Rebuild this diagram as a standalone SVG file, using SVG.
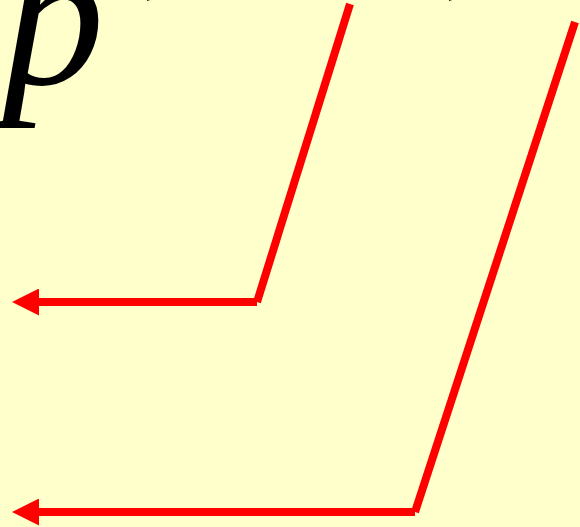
<svg xmlns="http://www.w3.org/2000/svg" width="580" height="527" viewBox="0 0 580 527">
<style>
.bg{fill:#FFFFCC}
.lbl{font-family:"Liberation Serif","Times New Roman",serif;font-style:italic;fill:#000}
.wire{stroke:#FF0000;stroke-width:8;fill:none;stroke-linecap:butt}
</style>
<defs>
<marker id="arr" markerUnits="userSpaceOnUse" markerWidth="27" markerHeight="27" refX="3" refY="13.5" orient="auto">
<path d="M0,0 L27,13.5 L0,27 z" fill="#FF0000"/>
</marker>
</defs>
<rect class="bg" x="0" y="0" width="580" height="527"/>
<g id="label-p">
<text class="lbl" x="2" y="84" font-size="205">p</text>
</g>
<g id="label-fragments">
<text class="lbl" x="143" y="-18" font-size="120">,</text>
<text class="lbl" x="445" y="-18" font-size="120">,</text>
</g>
<g id="connectors">
<line class="wire" x1="350" y1="4" x2="257" y2="302"/>
<line class="wire" x1="257" y1="302" x2="36" y2="302" marker-end="url(#arr)"/>
<line class="wire" x1="575" y1="22" x2="415" y2="512"/>
<line class="wire" x1="415" y1="512" x2="36" y2="512" marker-end="url(#arr)"/>
</g>
</svg>
